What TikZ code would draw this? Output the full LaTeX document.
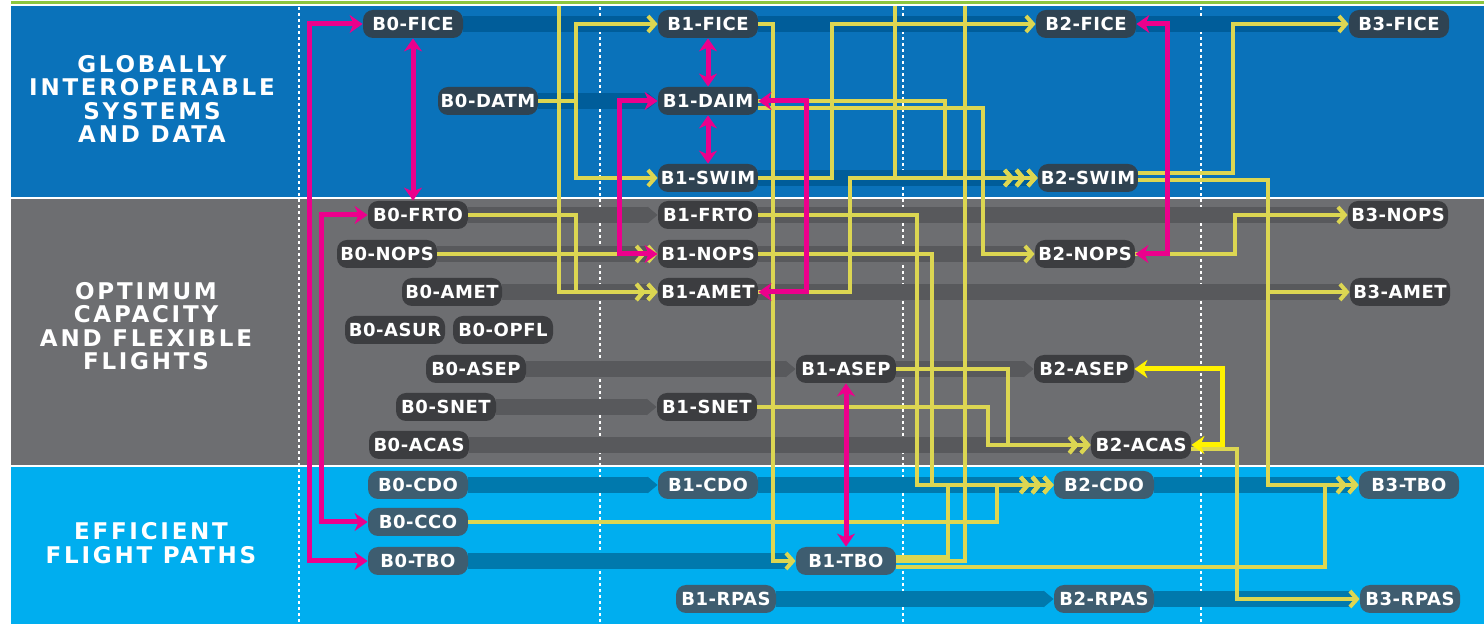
\documentclass[tikz,border=0pt]{standalone}
\usepackage{fontspec}
\usepackage{xcolor}
\usetikzlibrary{arrows.meta}
\newfontfamily\boxfont{DejaVu Sans}[LetterSpace=3]
\newfontfamily\catfont{DejaVu Sans}[LetterSpace=12]
\definecolor{gisdblue}{HTML}{0A72BA}
\definecolor{ocffgray}{HTML}{6D6E71}
\definecolor{efpcyan}{HTML}{00AEEF}
\definecolor{trkblue}{HTML}{005D9A}
\definecolor{trkgray}{HTML}{58595C}
\definecolor{trkcyan}{HTML}{0079AD}
\definecolor{boxblue}{HTML}{2F4352}
\definecolor{boxgray}{HTML}{3C3D40}
\definecolor{boxcyan}{HTML}{3E5D70}
\definecolor{pnk}{HTML}{EC008C}
\definecolor{ylw}{HTML}{DCD652}
\definecolor{brylw}{HTML}{FFF200}
\definecolor{topgreen}{HTML}{8DC63F}
\pgfdeclarelayer{bg}
\pgfdeclarelayer{trk}
\pgfsetlayers{bg,trk,main}
\tikzset{
  asbu/.style={rounded corners=5pt, minimum width=50pt, minimum height=14pt,
    inner xsep=1pt, inner ysep=1pt, text=white, font=\boxfont\bfseries\fontsize{9}{9}\selectfont},
  gisd/.style={asbu, fill=boxblue},
  ocff/.style={asbu, fill=boxgray},
  efp/.style={asbu, fill=boxcyan},
  cat/.style={text=white, align=center, font=\catfont\bfseries\fontsize{11.5}{11.75}\selectfont},
  track/.style={line width=8pt, -{Triangle[width=0pt 1, length=5pt]}},
  yl/.style={draw=ylw, line width=2pt},
  ya/.style={yl, -{Straight Barb[length=3.5pt,width=8pt]}},
  yaa/.style={yl, -{Straight Barb[length=3.5pt,width=8pt] Straight Barb[length=3.5pt,width=8pt]}},
  yaaa/.style={yl, -{Straight Barb[length=3.5pt,width=8pt] Straight Barb[length=3.5pt,width=8pt] Straight Barb[length=3.5pt,width=8pt]}},
  pk/.style={draw=pnk, line width=2.5pt, {Stealth[length=6.5pt,width=9pt,inset=2pt]}-{Stealth[length=6.5pt,width=9pt,inset=2pt]}},
  sep/.style={draw=white, line width=0.8pt, dash pattern=on 1.5pt off 1.5pt}
}
\begin{document}
\begin{tikzpicture}[x=0.5pt,y=-0.5pt]
\useasboundingbox (0,0) rectangle (1484,624);

\node[gisd] (b0fice) at (413,24) {B0-FICE};
\node[gisd] (b1fice) at (708,24) {B1-FICE};
\node[gisd] (b2fice) at (1086,24) {B2-FICE};
\node[gisd] (b3fice) at (1399,24) {B3-FICE};
\node[gisd] (b0datm) at (488,101) {B0-DATM};
\node[gisd] (b1daim) at (708,101) {B1-DAIM};
\node[gisd] (b1swim) at (708,178) {B1-SWIM};
\node[gisd] (b2swim) at (1088,178) {B2-SWIM};

\node[ocff] (b0frto) at (418,215) {B0-FRTO};
\node[ocff] (b1frto) at (708,215) {B1-FRTO};
\node[ocff] (b3nops) at (1398,215) {B3-NOPS};
\node[ocff] (b0nops) at (387,254) {B0-NOPS};
\node[ocff] (b1nops) at (708,254) {B1-NOPS};
\node[ocff] (b2nops) at (1085,254) {B2-NOPS};
\node[ocff] (b0amet) at (452,292) {B0-AMET};
\node[ocff] (b1amet) at (708,292) {B1-AMET};
\node[ocff] (b3amet) at (1400,292) {B3-AMET};
\node[ocff] (b0asur) at (395,330) {B0-ASUR};
\node[ocff] (b0opfl) at (503,330) {B0-OPFL};
\node[ocff] (b0asep) at (476,369) {B0-ASEP};
\node[ocff] (b1asep) at (846,369) {B1-ASEP};
\node[ocff] (b2asep) at (1084,369) {B2-ASEP};
\node[ocff] (b0snet) at (446,407) {B0-SNET};
\node[ocff] (b1snet) at (707,407) {B1-SNET};
\node[ocff] (b0acas) at (419,445) {B0-ACAS};
\node[ocff] (b2acas) at (1141,445) {B2-ACAS};

\node[efp] (b0cdo) at (418,485) {B0-CDO};
\node[efp] (b1cdo) at (708,485) {B1-CDO};
\node[efp] (b2cdo) at (1104,485) {B2-CDO};
\node[efp] (b3tbo) at (1409,485) {B3-TBO};
\node[efp] (b0cco) at (418,522) {B0-CCO};
\node[efp] (b0tbo) at (418,561) {B0-TBO};
\node[efp] (b1tbo) at (846,561) {B1-TBO};
\node[efp] (b1rpas) at (726,599) {B1-RPAS};
\node[efp] (b2rpas) at (1104,599) {B2-RPAS};
\node[efp] (b3rpas) at (1410,599) {B3-RPAS};

\coordinate (feedA) at (559,6);
\coordinate (feedB) at (895,6);
\coordinate (feedC) at (965,6);

\begin{pgfonlayer}{bg}
\draw[topgreen, line width=1.5pt] (11,3) -- (1484,3);
\fill[gisdblue] (11,6) rectangle (1484,197);
\fill[ocffgray] (11,199) rectangle (1484,465);
\fill[efpcyan] (11,467) rectangle (1484,624);
\foreach \x in {299,600,903,1201}
  \draw[sep] (\x,7) -- (\x,624);
\node[cat] (lgisd) at (152,99) {GLOBALLY\\INTEROPERABLE\\SYSTEMS\\AND DATA};
\node[cat] (locff) at (146,326) {OPTIMUM\\CAPACITY\\AND FLEXIBLE\\FLIGHTS};
\node[cat] (lefp) at (151,543) {EFFICIENT\\FLIGHT PATHS};
\end{pgfonlayer}

\begin{pgfonlayer}{trk}
\draw[track, trkblue] (b0fice) -- (b1fice.west);
\draw[track, trkblue] (b1fice) -- (b2fice.west);
\draw[track, trkblue] (b2fice) -- (b3fice.west);
\draw[track, trkblue] (b0datm) -- (b1daim.west);
\draw[track, trkblue] (b1swim) -- (b2swim.west);
\draw[track, trkgray] (b0frto) -- (b1frto.west);
\draw[track, trkgray] (b1frto) -- (b3nops.west);
\draw[track, trkgray] (b0nops) -- (b1nops.west);
\draw[track, trkgray] (b1nops) -- (b2nops.west);
\draw[track, trkgray] (b0amet) -- (b1amet.west);
\draw[track, trkgray] (b1amet) -- (b3amet.west);
\draw[track, trkgray] (b0asep) -- (b1asep.west);
\draw[track, trkgray] (b1asep) -- (b2asep.west);
\draw[track, trkgray] (b0snet) -- (b1snet.west);
\draw[track, trkgray] (b0acas) -- (b2acas.west);
\draw[track, trkcyan] (b0cdo) -- (b1cdo.west);
\draw[track, trkcyan] (b1cdo) -- (b2cdo.west);
\draw[track, trkcyan] (b2cdo) -- (b3tbo.west);
\draw[track, trkcyan] (b0tbo) -- (b1tbo.west);
\draw[track, trkcyan] (b1rpas) -- (b2rpas.west);
\draw[track, trkcyan] (b2rpas) -- (b3rpas.west);
\end{pgfonlayer}

\draw[ya] (b0datm.east) -- (576,101) |- (b1fice.west);
\draw[ya] (b0datm.east) -- (576,101) |- (b1swim.west);
\draw[yaa] (feedA) |- (b1amet.west);
\draw[yaa] (b0frto.east) -- (576,215) |- (b1amet.west);
\draw[yaa] (b0nops.east) -- (b1nops.west);
\draw[ya] (b1fice.east) -- (773,24) |- (b1tbo.west);
\draw[ya] (b1swim.east) -- (832,178) |- (b2fice.west);
\draw[yaaa] (feedB) |- (b2swim.west);
\draw[yaaa] (b1daim.east) -- (945,101) |- (b2swim.west);
\draw[ya] ([yshift=-3.5pt]b1daim.east) -- (983,108) |- (b2nops.west);
\draw[yaaa] (b1amet.east) -- (850,292) |- (b2swim.west);
\draw[yaaa] (b1frto.east) -- (917,215) |- (b2cdo.west);
\draw[yaaa] (b1nops.east) -- (932,254) |- (b2cdo.west);
\draw[yaaa] (b0cco.east) -- (997,522) |- (b2cdo.west);
\draw[yaaa] ([yshift=2pt]b1tbo.east) -- (948,557) |- (b2cdo.west);
\draw[yl] (b1tbo.east) -- (965,561) -- (feedC);
\draw[yaa] ([yshift=-3pt]b1tbo.east) -- (1325,567) |- (b3tbo.west);
\draw[yaa] (b1asep.east) -- (1008,369) |- (b2acas.west);
\draw[yaa] (b1snet.east) -- (988,407) |- (b2acas.west);
\draw[ya] ([yshift=2.5pt]b2swim.east) -- (1233,173) |- (b3fice.west);
\draw[yaa] ([yshift=-1pt]b2swim.east) -- (1268,180) |- (b3tbo.west);
\draw[ya] ([yshift=-1pt]b2swim.east) -- (1268,180) |- (b3amet.west);
\draw[ya] (b2nops.east) -- (1235,254) |- (b3nops.west);
\draw[ya] ([yshift=-2pt]b2acas.east) -- (1237,449) |- (b3rpas.west);

\draw[pk, draw=brylw] (b2asep.east) -- (1222,369) |- (b2acas.east);

\draw[pk] (b0fice.west) -- ++(-53,0) |- (b0tbo.west);
\draw[pk] (b0frto.west) -- ++(-46,0) |- (b0cco.west);
\draw[pk] (b0fice.south) -- (b0fice.south |- b0frto.north);
\draw[pk] (b1fice.south) -- (b1daim.north);
\draw[pk] (b1daim.south) -- (b1swim.north);
\draw[pk] (b1daim.west) -- ++(-38,0) |- (b1nops.west);
\draw[pk] (b1daim.east) -- ++(48,0) |- (b1amet.east);
\draw[pk] (b2fice.east) -- ++(31,0) |- (b2nops.east);
\draw[pk] (b1asep.south) -- (b1tbo.north);
\end{tikzpicture}
\end{document}
